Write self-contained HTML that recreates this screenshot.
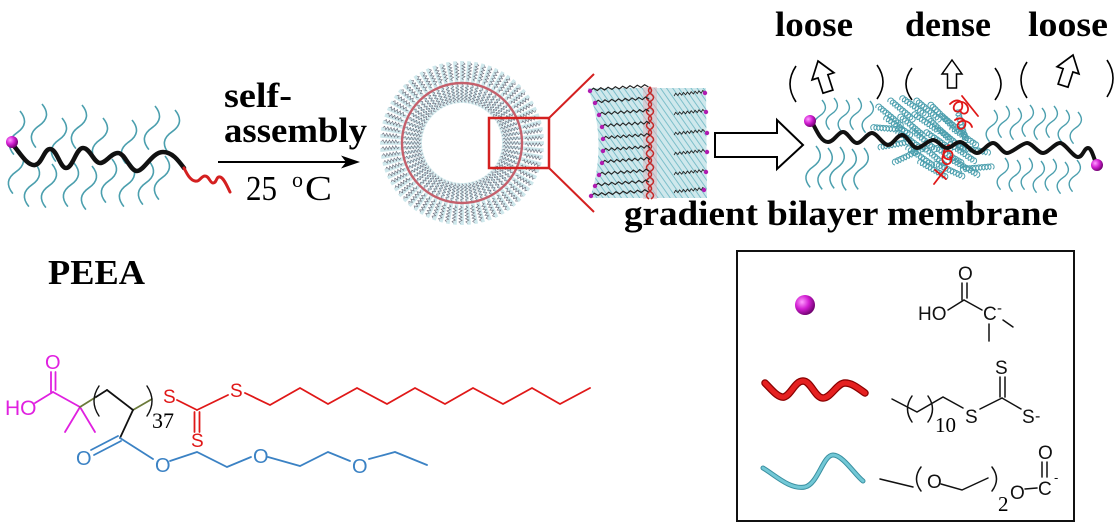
<!DOCTYPE html>
<html><head><meta charset="utf-8"><title>PEEA self-assembly</title>
<style>
html,body{margin:0;padding:0;background:#fff;width:1118px;height:528px;overflow:hidden}
svg{display:block}
.b{font-family:"Liberation Serif",serif;font-weight:bold;font-size:35px;fill:#000}
.r{font-family:"Liberation Serif",serif;fill:#000}
.s{font-family:"Liberation Sans",sans-serif;font-size:20px}
</style></head><body>
<svg width="1118" height="528" viewBox="0 0 1118 528" xmlns="http://www.w3.org/2000/svg">
<defs>
 <radialGradient id="pk" cx="35%" cy="35%" r="70%">
  <stop offset="0" stop-color="#ff9cff"/>
  <stop offset="0.5" stop-color="#d21ed2"/>
  <stop offset="1" stop-color="#6a006a"/>
 </radialGradient>
 <pattern id="tp" width="5" height="5" patternUnits="userSpaceOnUse" patternTransform="rotate(-35)">
  <line x1="0" y1="0" x2="0" y2="5" stroke="#6fb8c4" stroke-width="2"/>
 </pattern>
 <path id="sq" d="M0,0 q12,11 0,22 t0,22" fill="none" stroke="#4b9fae" stroke-width="1.6"/>
 <path id="sqs" d="M0,0 q9,8 0,16 t0,16" fill="none" stroke="#4b9fae" stroke-width="1.4"/>
 <path id="cu" d="M0,0 a3,3 0 1,1 3,0.8 a3,3 0 1,1 3,0.8 a3,3 0 1,1 3,0.8 a3,3 0 1,1 3,0.8 a3,3 0 1,1 3,0.8 a3,3 0 1,1 3,0.8 a3,3 0 1,1 3,0.8 a3,3 0 1,1 3,0.8 a3,3 0 1,1 3,0.8 a3,3 0 1,1 3,0.8" fill="none" stroke="#4b9fae" stroke-width="1"/>
 <path id="zz" d="M0,0 l3,-2.5 l3,2.5 l3,-2.5 l3,2.5 l3,-2.5 l3,2.5 l3,-2.5 l3,2.5 l3,-2.5 l3,2.5 l3,-2.5 l3,2.5 l3,-2.5 l3,2.5 l3,-2.5 l3,2.5" stroke="#222" stroke-width="1.1" fill="none"/>
 <g id="s1">
  <line x1="40" y1="0" x2="60" y2="0" stroke="#94c9d1" stroke-width="3" opacity="0.45"/>
  <line x1="60" y1="0" x2="82" y2="0" stroke="#a9d7dd" stroke-width="3.6" opacity="0.55"/>
  <path d="M41,0 l1.6,-1.6 l1.6,3.2 l1.6,-3.2 l1.6,3.2 l1.6,-3.2 l1.6,3.2 l1.6,-3.2 l1.6,3.2 l1.6,-3.2 l1.6,3.2 l1.6,-1.6" fill="none" stroke="#6a6a7a" stroke-width="0.55"/>
  <path d="M63,1.5 l1.6,-1.6 l1.6,3.2 l1.6,-3.2 l1.6,3.2 l1.6,-3.2 l1.6,3.2 l1.6,-3.2 l1.6,3.2 l1.6,-3.2 l1.6,3.2 l1.6,-1.6" fill="none" stroke="#6a6a78" stroke-width="0.6"/>
 </g>
 <g id="s2"><use href="#s1"/><use href="#s1" transform="rotate(5)"/></g>
 <g id="s4"><use href="#s2"/><use href="#s2" transform="rotate(10)"/></g>
 <g id="s8"><use href="#s4"/><use href="#s4" transform="rotate(20)"/></g>
 <polygon id="ua" points="0,0 10,14 4.5,14 4.5,28 -4.5,28 -4.5,14 -10,14" fill="#fff" stroke="#000" stroke-width="1.5" stroke-linejoin="miter"/>
</defs>

<rect width="1118" height="528" fill="#fff"/>

<!-- ===== PEEA polymer (top-left) ===== -->
<g>
 <use href="#sq" transform="translate(20,111) rotate(8)"/>
 <use href="#sq" transform="translate(42,104) rotate(8)"/>
 <use href="#sq" transform="translate(62,118) rotate(8)"/>
 <use href="#sq" transform="translate(82,105) rotate(8)"/>
 <use href="#sq" transform="translate(103,118) rotate(8)"/>
 <use href="#sq" transform="translate(132,120) rotate(8)"/>
 <use href="#sq" transform="translate(155,106) rotate(8)"/>
 <use href="#sq" transform="translate(175,110) rotate(8)"/>
 <use href="#sq" transform="translate(19,150) rotate(8)"/>
 <use href="#sq" transform="translate(35,163) rotate(8)"/>
 <use href="#sq" transform="translate(52,164) rotate(8)"/>
 <use href="#sq" transform="translate(74,163) rotate(8)"/>
 <use href="#sq" transform="translate(92,166) rotate(8)"/>
 <use href="#sq" transform="translate(112,159) rotate(8)"/>
 <use href="#sq" transform="translate(130,163) rotate(8)"/>
 <use href="#sq" transform="translate(149,161) rotate(8)"/>
 <use href="#sq" transform="translate(165,156) rotate(8)"/>
 <path d="M14,146 C22,156 28,166 35,165 C42,164 44,149 50,149 C57,149 60,168 66,168 C73,168 76,148 83,148 C90,148 94,163 100,163 C106,163 111,153 118,153 C125,153 130,171 137,171 C144,171 152,152 163,152 C172,152 178,160 184,168" fill="none" stroke="#111" stroke-width="4.5" stroke-linecap="round"/>
 <path d="M184,168 C187,174 190,180 195,181 C200,182 201,176 205,176 C209,176 210,183 213,183 C217,183 216,176 220,177 C224,178 227,186 230,192" fill="none" stroke="#d42020" stroke-width="3" stroke-linecap="round"/>
 <circle cx="12" cy="142" r="6" fill="url(#pk)"/>
</g>

<!-- self-assembly arrow -->
<text class="b" x="224" y="107" textLength="68" lengthAdjust="spacingAndGlyphs">self-</text>
<text class="b" x="224" y="142" textLength="143" lengthAdjust="spacingAndGlyphs">assembly</text>
<line x1="218" y1="162" x2="346" y2="162" stroke="#000" stroke-width="2"/>
<polygon points="360,162 341,155.5 346,162 341,168.5" fill="#000"/>
<text class="r" x="246" y="200" font-size="35" textLength="31" lengthAdjust="spacingAndGlyphs">25</text>
<text class="r" x="292" y="187" font-size="22">o</text>
<text class="r" x="305" y="200" font-size="35" textLength="27" lengthAdjust="spacingAndGlyphs">C</text>

<!-- ===== Vesicle ===== -->
<g transform="translate(462,143)">
 <use href="#s8"/>
 <use href="#s8" transform="rotate(40)"/>
 <use href="#s8" transform="rotate(80)"/>
 <use href="#s8" transform="rotate(120)"/>
 <use href="#s8" transform="rotate(160)"/>
 <use href="#s8" transform="rotate(200)"/>
 <use href="#s8" transform="rotate(240)"/>
 <use href="#s8" transform="rotate(280)"/>
 <use href="#s8" transform="rotate(320)"/>
 <circle cx="0" cy="0" r="60" fill="none" stroke="#c4606c" stroke-width="2.4"/>
</g>
<rect x="489" y="118" width="60" height="50" fill="none" stroke="#d42020" stroke-width="2.5"/>
<line x1="549" y1="118" x2="594" y2="74" stroke="#d42020" stroke-width="2"/>
<line x1="549" y1="168" x2="594" y2="212" stroke="#d42020" stroke-width="2"/>

<!-- ===== Zoomed membrane patch ===== -->
<g>
 <path d="M588,88 L706,88 L707,198 L590,198 Q608,143 588,88 Z" fill="#cfe8ec"/>
 <path d="M588,88 L706,88 L707,198 L590,198 Q608,143 588,88 Z" fill="url(#tp)" opacity="0.85"/>
 <rect x="643" y="87" width="14" height="112" fill="#e2b4bc" opacity="0.5"/>
 <path d="M651,87 q-5,3.5 0,7 t0,7 t0,7 t0,7 t0,7 t0,7 t0,7 t0,7 t0,7 t0,7 t0,7 t0,7 t0,7 t0,7 t0,7 t0,7" fill="none" stroke="#c42a2a" stroke-width="1.5"/>
 <path d="M649,87 q5,3.5 0,7 t0,7 t0,7 t0,7 t0,7 t0,7 t0,7 t0,7 t0,7 t0,7 t0,7 t0,7 t0,7 t0,7 t0,7 t0,7" fill="none" stroke="#c42a2a" stroke-width="1.5"/>
 <use href="#zz" transform="translate(590,91) rotate(-4) scale(1.22,1)"/>
 <use href="#zz" transform="translate(595,103) rotate(-4) scale(1.13,1)"/>
 <use href="#zz" transform="translate(599,115) rotate(-4) scale(1.05,1)"/>
 <use href="#zz" transform="translate(602,127) rotate(-4) scale(1.0,1)"/>
 <use href="#zz" transform="translate(603,139) rotate(-4) scale(0.98,1)"/>
 <use href="#zz" transform="translate(603,151) rotate(-4) scale(0.98,1)"/>
 <use href="#zz" transform="translate(602,163) rotate(-4) scale(1.0,1)"/>
 <use href="#zz" transform="translate(599,175) rotate(-4) scale(1.05,1)"/>
 <use href="#zz" transform="translate(595,186) rotate(-4) scale(1.13,1)"/>
 <use href="#zz" transform="translate(591,196) rotate(-4) scale(1.2,1)"/>
 <use href="#zz" transform="translate(674,96) rotate(-6) scale(0.65,1)"/>
 <use href="#zz" transform="translate(674,115) rotate(-6) scale(0.65,1)"/>
 <use href="#zz" transform="translate(674,135) rotate(-6) scale(0.65,1)"/>
 <use href="#zz" transform="translate(674,155) rotate(-6) scale(0.65,1)"/>
 <use href="#zz" transform="translate(674,175) rotate(-6) scale(0.65,1)"/>
 <use href="#zz" transform="translate(674,193) rotate(-6) scale(0.65,1)"/>
 <g fill="#b01cb0">
  <circle cx="590" cy="91" r="2.2"/><circle cx="595" cy="103" r="2.2"/><circle cx="599" cy="115" r="2.2"/>
  <circle cx="602" cy="127" r="2.2"/><circle cx="603" cy="139" r="2.2"/><circle cx="603" cy="151" r="2.2"/>
  <circle cx="602" cy="163" r="2.2"/><circle cx="599" cy="175" r="2.2"/><circle cx="595" cy="186" r="2.2"/>
  <circle cx="591" cy="196" r="2.2"/>
  <circle cx="705" cy="93" r="2.2"/><circle cx="706" cy="112" r="2.2"/><circle cx="707" cy="133" r="2.2"/>
  <circle cx="707" cy="152" r="2.2"/><circle cx="706" cy="172" r="2.2"/><circle cx="704" cy="190" r="2.2"/>
 </g>
</g>

<!-- big hollow arrow -->
<polygon points="715,133 777,133 777,120 803,145 777,169 777,157 715,157" fill="#fff" stroke="#000" stroke-width="2"/>

<!-- ===== Right bilayer ===== -->
<g>
 <use href="#sqs" transform="translate(822,100) rotate(8)"/>
 <use href="#sqs" transform="translate(834,98) rotate(8)"/>
 <use href="#sqs" transform="translate(846,100) rotate(8)"/>
 <use href="#sqs" transform="translate(858,98) rotate(8)"/>
 <use href="#sqs" transform="translate(870,101) rotate(8)"/>
 <use href="#sq" transform="translate(816,146) scale(0.95) rotate(8)"/>
 <use href="#sq" transform="translate(828,148) scale(0.95) rotate(8)"/>
 <use href="#sq" transform="translate(840,147) scale(0.95) rotate(8)"/>
 <use href="#sq" transform="translate(852,149) scale(0.95) rotate(8)"/>
 <use href="#sq" transform="translate(864,148) scale(0.95) rotate(8)"/>
 <use href="#sqs" transform="translate(994,110) rotate(8)"/>
 <use href="#sqs" transform="translate(1006,106) rotate(8)"/>
 <use href="#sqs" transform="translate(1018,108) rotate(8)"/>
 <use href="#sqs" transform="translate(1030,105) rotate(8)"/>
 <use href="#sqs" transform="translate(1042,108) rotate(8)"/>
 <use href="#sqs" transform="translate(1054,106) rotate(8)"/>
 <use href="#sqs" transform="translate(1066,110) rotate(8)"/>
 <use href="#sqs" transform="translate(1078,112) rotate(8)"/>
 <use href="#sqs" transform="translate(1005,158) rotate(8)"/>
 <use href="#sqs" transform="translate(1017,160) rotate(8)"/>
 <use href="#sqs" transform="translate(1029,158) rotate(8)"/>
 <use href="#sqs" transform="translate(1041,161) rotate(8)"/>
 <use href="#sqs" transform="translate(1053,159) rotate(8)"/>
 <use href="#sqs" transform="translate(1065,162) rotate(8)"/>
 <use href="#sqs" transform="translate(1077,160) rotate(8)"/>
 <g>
  <use href="#cu" transform="translate(876,108) rotate(25)"/>
  <use href="#cu" transform="translate(888,102) rotate(25)"/>
  <use href="#cu" transform="translate(900,100) rotate(20)"/>
  <use href="#cu" transform="translate(914,102) rotate(25)"/>
  <use href="#cu" transform="translate(928,106) rotate(30)"/>
  <use href="#cu" transform="translate(884,120) rotate(20)"/>
  <use href="#cu" transform="translate(898,118) rotate(25)"/>
  <use href="#cu" transform="translate(912,116) rotate(20)"/>
  <use href="#cu" transform="translate(926,120) rotate(30)"/>
  <use href="#cu" transform="translate(940,118) rotate(25)"/>
  <use href="#cu" transform="translate(896,134) rotate(20)"/>
  <use href="#cu" transform="translate(910,132) rotate(25)"/>
  <use href="#cu" transform="translate(924,134) rotate(20)"/>
  <use href="#cu" transform="translate(938,132) rotate(25)"/>
  <use href="#cu" transform="translate(950,130) rotate(20)"/>
  <use href="#cu" transform="translate(906,150) rotate(20)"/>
  <use href="#cu" transform="translate(920,148) rotate(25)"/>
  <use href="#cu" transform="translate(934,150) rotate(15)"/>
  <use href="#cu" transform="translate(948,146) rotate(20)"/>
  <use href="#cu" transform="translate(918,164) rotate(15)"/>
  <use href="#cu" transform="translate(934,166) rotate(10)"/>
  <use href="#cu" transform="translate(950,162) rotate(15)"/>
  <use href="#cu" transform="translate(872,130) rotate(-10)"/>
  <use href="#cu" transform="translate(880,150) rotate(-25)"/>
  <use href="#cu" transform="translate(958,150) rotate(-5)"/>
  <use href="#cu" transform="translate(962,172) rotate(-20)"/>
  <use href="#cu" transform="translate(955,112) rotate(60)"/>
  <use href="#cu" transform="translate(895,165) rotate(-40)"/>
 </g>
 <g fill="none" stroke="#e01818" stroke-width="1.8" stroke-linecap="round">
  <path d="M950,104 c6,-6 14,-4 12,4 c-2,6 -10,4 -8,-2 c2,-6 12,-6 14,2 c1,6 -6,8 -8,2"/>
  <path d="M962,96 l16,20"/>
  <path d="M955,120 c6,-4 12,0 10,6 c-2,5 -9,3 -7,-2 c2,-5 12,-4 14,3"/>
  <path d="M949,145 c-6,4 -8,12 -2,14 c5,2 8,-6 3,-8 c-6,-2 -10,8 -6,12 c4,4 10,-2 6,-6"/>
  <path d="M934,184 l13,-17"/>
  <path d="M935,170 l11,9"/>
 </g>
 <path d="M812,122 C818,134 822,142 828,142 S838,132 843,132 S852,143 857,143 S867,133 872,133 S883,145 888,145 S897,135 902,135 S912,148 917,148 S928,140 933,140 S942,148 947,148 S955,142 960,142 S972,153 977,153 S988,143 993,143 S1002,153 1007,153 S1022,143 1027,143 S1038,153 1043,153 S1055,143 1060,143 S1073,157 1078,157 S1084,148 1088,148 S1094,160 1097,165" fill="none" stroke="#111" stroke-width="4" stroke-linecap="round"/>
 <circle cx="810" cy="121" r="6" fill="url(#pk)"/>
 <circle cx="1097" cy="165" r="6" fill="url(#pk)"/>
</g>

<!-- loose / dense / loose -->
<text class="b" x="775" y="36" textLength="78" lengthAdjust="spacingAndGlyphs">loose</text>
<text class="b" x="905" y="36" textLength="86" lengthAdjust="spacingAndGlyphs">dense</text>
<text class="b" x="1028" y="36" textLength="80" lengthAdjust="spacingAndGlyphs">loose</text>
<g fill="none" stroke="#000" stroke-width="1.6">
 <path d="M796,66 Q784,84 796,102"/>
 <path d="M877,65 Q889,82 877,99"/>
 <path d="M912,68 Q900,84 912,100"/>
 <path d="M995,68 Q1007,84 995,100"/>
 <path d="M1027,62 Q1015,80 1027,98"/>
 <path d="M1107,60 Q1119,78 1107,97"/>
</g>
<use href="#ua" transform="translate(818,61) rotate(-18) scale(1.15)"/>
<use href="#ua" transform="translate(952,60)"/>
<use href="#ua" transform="translate(1073,55) rotate(18) scale(1.15)"/>

<text class="b" x="624" y="225" textLength="434" lengthAdjust="spacingAndGlyphs">gradient bilayer membrane</text>

<text class="b" x="48" y="284" textLength="97" lengthAdjust="spacingAndGlyphs">PEEA</text>

<!-- ===== Chemical structure (bottom-left) ===== -->
<g stroke-width="1.8" stroke-linecap="round" fill="none">
 <g stroke="#e020e0">
  <line x1="35" y1="403" x2="53" y2="392"/>
  <line x1="51" y1="372" x2="51" y2="392"/>
  <line x1="55.5" y1="372" x2="55.5" y2="390"/>
  <line x1="53" y1="392" x2="80" y2="407"/>
  <line x1="80" y1="407" x2="65" y2="432"/>
  <line x1="80" y1="407" x2="95" y2="432"/>
 </g>
 <g stroke="#6b7a3a">
  <line x1="80" y1="407" x2="96" y2="397"/>
  <line x1="133" y1="410" x2="152" y2="399"/>
 </g>
 <g stroke="#111">
  <line x1="96" y1="397" x2="107" y2="390"/>
  <line x1="107" y1="390" x2="133" y2="410"/>
  <line x1="133" y1="410" x2="120" y2="438"/>
 </g>
 <g stroke="#111" stroke-width="1.4">
  <path d="M99,386 Q89,401 99,416"/>
  <path d="M147,386 Q157,401 147,416"/>
 </g>
 <g stroke="#3b82c4">
  <line x1="118" y1="436" x2="91" y2="450"/>
  <line x1="121" y1="441" x2="94" y2="455"/>
  <line x1="120" y1="438" x2="153" y2="459"/>
  <polyline points="170,461 197,452 227,467 251,457"/>
  <polyline points="268,457 300,466 328,452 350,461"/>
  <polyline points="369,459 395,452 427,465"/>
 </g>
 <g stroke="#e01818">
  <line x1="177" y1="400" x2="197" y2="410"/>
  <line x1="194.5" y1="412" x2="194.5" y2="432"/>
  <line x1="199.5" y1="412" x2="199.5" y2="432"/>
  <line x1="197" y1="410" x2="228" y2="395"/>
  <polyline points="245,393 270,405 300,388 328,404 357,388 387,404 415,388 445,404 473,388 503,404 532,388 560,404 590,388"/>
 </g>
</g>
<g class="s">
 <text x="5" y="415" fill="#e020e0" font-size="21">HO</text>
 <text x="45" y="369" fill="#e020e0">O</text>
 <text x="76" y="465" fill="#3b82c4">O</text>
 <text x="155" y="472" fill="#3b82c4">O</text>
 <text x="253" y="463" fill="#3b82c4">O</text>
 <text x="352" y="473" fill="#3b82c4">O</text>
 <text x="163" y="403" fill="#e01818" font-size="19">S</text>
 <text x="191" y="447" fill="#e01818" font-size="19">S</text>
 <text x="230" y="397" fill="#e01818" font-size="19">S</text>
</g>
<text class="r" x="152" y="428" font-size="22">37</text>

<!-- ===== Legend box ===== -->
<rect x="737" y="251" width="337" height="270" fill="none" stroke="#111" stroke-width="2"/>
<circle cx="805" cy="305" r="10" fill="url(#pk)"/>
<g fill="none" stroke="#111" stroke-width="1.5" stroke-linecap="round">
 <line x1="962" y1="283" x2="962" y2="300"/>
 <line x1="967" y1="283" x2="967" y2="298"/>
 <line x1="948" y1="310" x2="964" y2="300"/>
 <line x1="964" y1="300" x2="982" y2="310"/>
 <line x1="989" y1="324" x2="989" y2="341"/>
 <line x1="1003" y1="320" x2="1013" y2="327"/>
 <line x1="1000" y1="377" x2="1000" y2="397"/>
 <line x1="1005" y1="377" x2="1005" y2="397"/>
 <line x1="1002" y1="398" x2="980" y2="409"/>
 <line x1="1002" y1="398" x2="1021" y2="409"/>
 <polyline points="892,399 917,412 943,397 963,408"/>
 <path d="M912,396 Q903,409 912,422"/>
 <path d="M928,396 Q937,409 928,422"/>
 <line x1="880" y1="479" x2="913" y2="487"/>
 <path d="M921,467 Q912,479 921,491"/>
 <polyline points="941,484 962,490 988,478"/>
 <path d="M992,467 Q1001,479 992,491"/>
 <line x1="1025" y1="489" x2="1037" y2="488"/>
 <line x1="1042" y1="462" x2="1042" y2="477"/>
 <line x1="1047" y1="462" x2="1047" y2="477"/>
</g>
<g class="s" fill="#111">
 <text x="958" y="280" font-size="19">O</text>
 <text x="918" y="320" font-size="19">HO</text>
 <text x="983" y="320" font-size="19">C</text>
 <text x="997" y="313" font-size="15">-</text>
 <text x="995" y="374" font-size="19">S</text>
 <text x="965" y="423" font-size="19">S</text>
 <text x="1022" y="423" font-size="19">S</text>
 <text x="1035" y="421" font-size="16">-</text>
 <text x="927" y="488" font-size="19">O</text>
 <text x="1010" y="499" font-size="19">O</text>
 <text x="1038" y="495" font-size="19">C</text>
 <text x="1054" y="482" font-size="13">-</text>
 <text x="1038" y="459" font-size="19">O</text>
</g>
<text class="r" x="935" y="432" font-size="21">10</text>
<text class="r" x="998" y="511" font-size="21">2</text>
<path d="M765,383 C772,390 778,398 784,397 C791,395 795,381 803,381 C811,381 815,398 823,398 C831,398 837,383 845,383 C852,383 858,388 865,393" fill="none" stroke="#8a0000" stroke-width="7.5" stroke-linecap="round"/>
<path d="M765,383 C772,390 778,398 784,397 C791,395 795,381 803,381 C811,381 815,398 823,398 C831,398 837,383 845,383 C852,383 858,388 865,393" fill="none" stroke="#e52020" stroke-width="5" stroke-linecap="round"/>
<path d="M763,468 C775,475 790,490 805,487 C818,484 823,455 833,455 C843,455 855,475 863,481" fill="none" stroke="#3a8fa0" stroke-width="5" stroke-linecap="round"/>
<path d="M763,468 C775,475 790,490 805,487 C818,484 823,455 833,455 C843,455 855,475 863,481" fill="none" stroke="#72c8d6" stroke-width="3" stroke-linecap="round"/>
</svg>
</body></html>
